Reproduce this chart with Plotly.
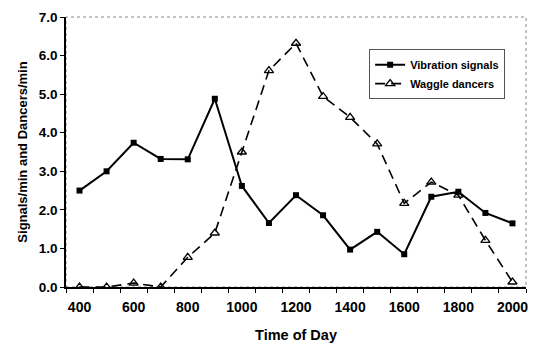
import plotly.graph_objects as go

hours = [400, 500, 600, 700, 800, 900, 1000, 1100, 1200, 1300, 1400, 1500, 1600, 1700, 1800, 1900, 2000]
vibration = [2.5, 3.0, 3.74, 3.32, 3.31, 4.88, 2.62, 1.66, 2.38, 1.86, 0.97, 1.43, 0.85, 2.34, 2.47, 1.92, 1.65]
waggle = [0.0, 0.0, 0.1, 0.0, 0.77, 1.4, 3.5, 5.61, 6.32, 4.94, 4.4, 3.71, 2.17, 2.72, 2.38, 1.21, 0.13]
x_labels = [400, 600, 800, 1000, 1200, 1400, 1600, 1800, 2000]
x_minor = [350, 450, 550, 650, 750, 850, 950, 1050, 1150, 1250, 1350, 1450, 1550, 1650, 1750, 1850, 1950, 2050]
y_ticks = [0, 1, 2, 3, 4, 5, 6, 7]

font_family = "Liberation Sans, Arial, sans-serif"

fig = go.Figure()
fig.add_trace(go.Scatter(
    x=hours, y=vibration, name="<b>Vibration signals</b>", mode="lines+markers",
    line=dict(color="black", width=2),
    marker=dict(symbol="square", size=6, color="black"),
))
fig.add_trace(go.Scatter(
    x=hours, y=waggle, name="<b>Waggle dancers</b>", mode="lines+markers",
    line=dict(color="black", width=1.6, dash="10px,6px"),
    marker=dict(symbol="triangle-up-open", size=8, color="black", line=dict(width=1.3)),
))

fig.add_shape(type="rect", xref="paper", yref="paper", x0=0, y0=0, x1=1, y1=1,
              line=dict(color="#888888", width=1, dash="dot"), layer="below")

fig.update_layout(
    width=537, height=347,
    margin=dict(l=66, r=11, t=17, b=60),
    paper_bgcolor="white", plot_bgcolor="white",
    font=dict(family=font_family, color="black", size=12),
    showlegend=True,
    legend=dict(x=0.659, y=0.881, xanchor="left", yanchor="top",
                bordercolor="#555555", borderwidth=1, bgcolor="white",
                font=dict(size=11, family=font_family),
                tracegroupgap=0, itemwidth=30),
    xaxis=dict(
        range=[350, 2050], tickmode="array", tickvals=x_labels,
        ticktext=[f"<b>{v}</b>" for v in x_labels],
        ticks="", showgrid=False, zeroline=False, automargin=False,
        showline=True, linecolor="black", linewidth=1.5,
        tickfont=dict(size=14), ticklabelstandoff=6,
        minor=dict(tickmode="array", tickvals=x_minor, ticks="outside", ticklen=4,
                   tickcolor="black", tickwidth=1, showgrid=False),
        title=dict(text="<b>Time of Day</b>", font=dict(size=14.5), standoff=16),
    ),
    yaxis=dict(
        range=[0, 7], tickmode="array", tickvals=y_ticks,
        ticktext=[f"<b>{v:.1f}</b>" for v in y_ticks],
        ticks="outside", ticklen=4, tickcolor="black", tickwidth=1,
        showgrid=False, zeroline=False, automargin=False,
        showline=True, linecolor="black", linewidth=1.5,
        tickfont=dict(size=13.5),
        title=dict(text="<b>Signals/min and Dancers/min</b>", font=dict(size=13), standoff=8),
    ),
)

fig.write_html("out.html")
